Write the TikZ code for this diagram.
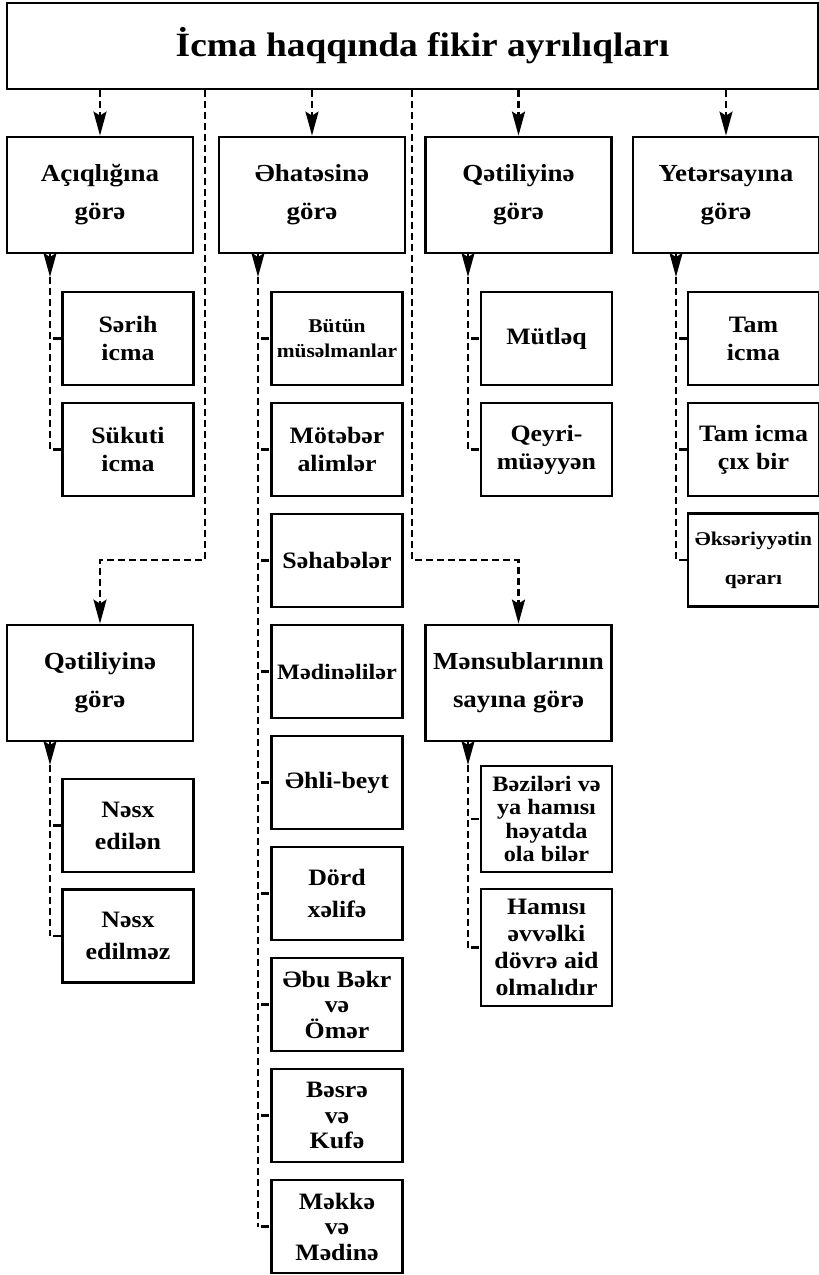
\documentclass[tikz,border=0pt]{standalone}
\usepackage{fontspec}
\setmainfont{Liberation Serif}[FakeStretch=1.1]
\usetikzlibrary{arrows.meta}

\begin{document}
\begin{tikzpicture}[x=1pt,y=-1pt,
  box/.style={draw,line width=2.8pt,inner sep=0pt,align=center},
  head/.style={box,minimum width=186pt,minimum height=116pt,font=\bfseries\fontsize{24.5}{38}\selectfont},
  leaf/.style={box,minimum width=131pt,minimum height=93pt,font=\bfseries\fontsize{23.5}{28}\selectfont},
  leaftight/.style={leaf,font=\bfseries\fontsize{23.5}{25.5}\selectfont},
  leafsmall/.style={leaf,font=\bfseries\fontsize{19.5}{25}\selectfont},
  conn/.style={line width=2.3pt,dash pattern=on 7pt off 4pt},
  tick/.style={line width=2.3pt,dash pattern=on 0pt off 3pt on 8pt off 20pt},
  arr/.style={conn,-{Stealth[length=24pt,width=13pt,inset=4pt]}}]
\useasboundingbox (0,0) rectangle (819,1275);

\node[box,minimum width=811pt,minimum height=86pt,font=\bfseries\fontsize{34}{40}\selectfont] (title) at (412.5,46) {\hspace*{20pt}İcma haqqında fikir ayrılıqları};

% main groups
\node[head] (acq) at (100,195) {Açıqlığına\\görə};
\node[head] (aht) at (312,195) {Əhatəsinə\\görə};
\node[head] (qet) at (518.5,195) {Qətiliyinə\\görə};
\node[head] (yet) at (726,195) {Yetərsayına\\görə};
\node[head] (qetb) at (100,683) {Qətiliyinə\\görə};
\node[head] (mns) at (518.5,683) {Mənsublarının\\sayına görə};

\foreach \n in {acq,aht,qet,yet} {\draw[arr] (title.south -| \n.north) -- (\n.north);}
\coordinate (bendA) at (205,560);
\coordinate (bendB) at (412,560);
\draw[arr] (title.south -| bendA) -- (bendA) -| (qetb.north);
\draw[arr] (title.south -| bendB) -- (bendB) -| (mns.north);

% leaves
\node[leaf] (sar) at (128,338.5) {Sərih\\icma};
\node[leaf] (suk) at (128,449.5) {Sükuti\\icma};

\node[leafsmall] (but) at (337,338.5) {Bütün\\müsəlmanlar};
\node[leaf] (mot) at (337,449.5) {Mötəbər\\alimlər};
\node[leaf] (seh) at (337,560.5) {Səhabələr};
\node[leaf,font=\bfseries\fontsize{22}{28}\selectfont] (med) at (337,671.5) {Mədinəlilər};
\node[leaf] (ehl) at (337,782.5) {Əhli-beyt};
\node[leaf,font=\bfseries\fontsize{23.5}{32}\selectfont] (dor) at (337,893.5) {Dörd\\xəlifə};
\node[leaftight] (ebu) at (337,1004.5) {Əbu Bəkr\\və\\Ömər};
\node[leaftight] (bes) at (337,1115.5) {Bəsrə\\və\\Kufə};
\node[leaftight] (mek) at (337,1226.5) {Məkkə\\və\\Mədinə};

\node[leaf] (mut) at (546.5,338.5) {Mütləq};
\node[leaf] (qey) at (546.5,449.5) {Qeyri-\\müəyyən};

\node[leaf] (tam) at (753.5,338.5) {Tam\\icma};
\node[leaf] (tamc) at (753.5,449.5) {Tam icma\\çıx bir};
\node[leafsmall,font=\bfseries\fontsize{19.5}{39}\selectfont] (eks) at (753.5,560) {Əksəriyyətin\\qərarı};

\node[leaf,font=\bfseries\fontsize{23.5}{32}\selectfont] (nsa) at (128,825.5) {Nəsx\\edilən};
\node[leaf,font=\bfseries\fontsize{23.5}{32}\selectfont] (nsb) at (128,936) {Nəsx\\edilməz};

\node[leaf,minimum height=106pt,font=\bfseries\fontsize{22}{23.5}\selectfont] (bez) at (546.5,819) {Bəziləri və\\ya hamısı\\həyatda\\ola bilər};
\node[leaf,minimum height=117pt,font=\bfseries\fontsize{23.5}{27}\selectfont] (ham) at (546.5,947.5) {Hamısı\\əvvəlki\\dövrə aid\\olmalıdır};

% spines
\coordinate (sA) at (50,277);
\coordinate (sB) at (258,277);
\coordinate (sC) at (468,277);
\coordinate (sD) at (676,277);
\coordinate (sE) at (50,765);
\coordinate (sF) at (468,765);
\draw[arr] (acq.south -| sA) -- (sA);
\draw[arr] (aht.south -| sB) -- (sB);
\draw[arr] (qet.south -| sC) -- (sC);
\draw[arr] (yet.south -| sD) -- (sD);
\draw[arr] (qetb.south -| sE) -- (sE);
\draw[arr] (mns.south -| sF) -- (sF);
\draw[conn] (sA) -- (sA |- suk.west);
\draw[conn] (sB) -- (sB |- mek.west);
\draw[conn] (sC) -- (sC |- qey.west);
\draw[conn] (sD) -- (sD |- eks.west);
\draw[conn] (sE) -- (sE |- nsb.west);
\draw[conn] (sF) -- (sF |- ham.west);
\foreach \c in {sar,suk} {\draw[tick] (sA |- \c.west) -- (\c.west);}
\foreach \c in {but,mot,seh,med,ehl,dor,ebu,bes,mek} {\draw[tick] (sB |- \c.west) -- (\c.west);}
\foreach \c in {mut,qey} {\draw[tick] (sC |- \c.west) -- (\c.west);}
\foreach \c in {tam,tamc,eks} {\draw[tick] (sD |- \c.west) -- (\c.west);}
\foreach \c in {nsa,nsb} {\draw[tick] (sE |- \c.west) -- (\c.west);}
\foreach \c in {bez,ham} {\draw[tick] (sF |- \c.west) -- (\c.west);}
\end{tikzpicture}
\end{document}
